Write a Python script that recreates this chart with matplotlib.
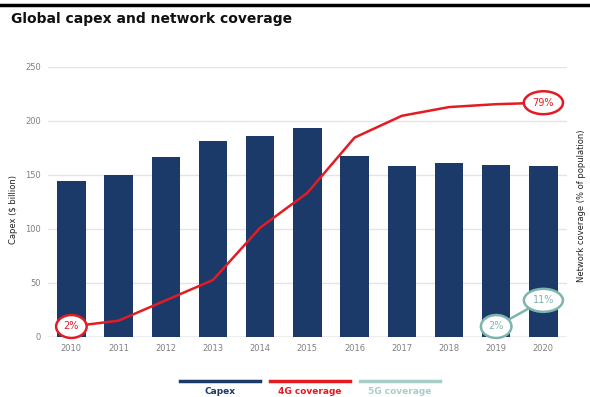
import matplotlib.pyplot as plt
from matplotlib.lines import Line2D

# Data
years = ["2010", "2011", "2012", "2013", "2014", "2015",
         "2016", "2017", "2018", "2019", "2020"]
capex = [144, 150, 166, 181, 186, 193, 167, 158, 161, 159, 158]
cov_4g = [2, 4, 11, 18, 36, 48, 67, 74.5, 77.5, 78.5, 79]
years_5g = ["2019", "2020"]
cov_5g = [2, 11]

navy = "#1b3a69"
red = "#e31b23"
teal = "#7db5ad"
teal_light = "#a8cdc8"
grey = "#808080"

fig = plt.figure(figsize=(5.9, 3.97), dpi=100)
ax = fig.add_axes([0.081, 0.152, 0.88, 0.68])

x = list(range(len(years)))
ax.bar(x, capex, width=0.6, color=navy, zorder=2)
ax.set_xlim(-0.5, 10.5)
ax.set_ylim(0, 250)
ax.set_yticks([0, 50, 100, 150, 200, 250])
ax.set_xticks(x)
ax.set_xticklabels(years)
ax.grid(axis="y", color="#e4e4e4", lw=1, zorder=0)
ax.axhline(0, color="#b0b0b0", lw=1, zorder=1)
for s in ax.spines.values():
    s.set_visible(False)
ax.tick_params(length=0, labelsize=6, labelcolor=grey, pad=5)

# Coverage on a second scale
ax2 = ax.twinx()
ax2.set_ylim(-1.5, 91.4)
ax2.set_yticks([])
for s in ax2.spines.values():
    s.set_visible(False)

ax2.plot(x, cov_4g, color=red, lw=1.8, zorder=3)
x5 = [years.index(y) for y in years_5g]
ax2.plot(x5, cov_5g, color=teal, lw=1.8, zorder=3)

def bubble(xi, yi, txt, col):
    ax2.text(xi, yi, txt, ha="center", va="center", fontsize=7,
             color=col, zorder=5,
             bbox=dict(boxstyle="ellipse,pad=0.32", fc="white", ec=col, lw=1.8))

bubble(x[0], cov_4g[0], f"{cov_4g[0]}%", red)
bubble(x[-1], cov_4g[-1], f"{cov_4g[-1]}%", red)
bubble(x5[0], cov_5g[0], f"{cov_5g[0]}%", teal)
bubble(x5[1], cov_5g[1], f"{cov_5g[1]}%", teal)

# Axis titles
fig.text(13 / 590, 1 - 210 / 397, "Capex ($ billion)", fontsize=6,
         rotation=90, ha="center", va="center", color="#222222")
fig.text(582 / 590, 1 - 206 / 397, "Network coverage (% of population)",
         fontsize=6, rotation=90, ha="center", va="center", color="#222222")

# Header rule and title
fig.add_artist(Line2D([0, 1], [0.987, 0.987], color="black", lw=2.5))
fig.text(0.018, 0.953, "Global capex and network coverage", fontsize=10,
         fontweight="bold", ha="left", va="center", color="#111111")

# Legend
items = [("Capex", navy, navy), ("4G coverage", red, red),
         ("5G coverage", teal_light, teal_light)]
for i, (lab, lc, tc) in enumerate(items):
    x0 = 180 + i * 90
    fig.add_artist(Line2D([x0 / 590, (x0 + 80) / 590], [1 - 381 / 397] * 2,
                          color=lc, lw=2.5))
    fig.text((x0 + 40) / 590, 1 - 392 / 397, lab, fontsize=6.5,
             fontweight="bold", color=tc, ha="center", va="center")

fig.savefig("out.png", dpi=100)
